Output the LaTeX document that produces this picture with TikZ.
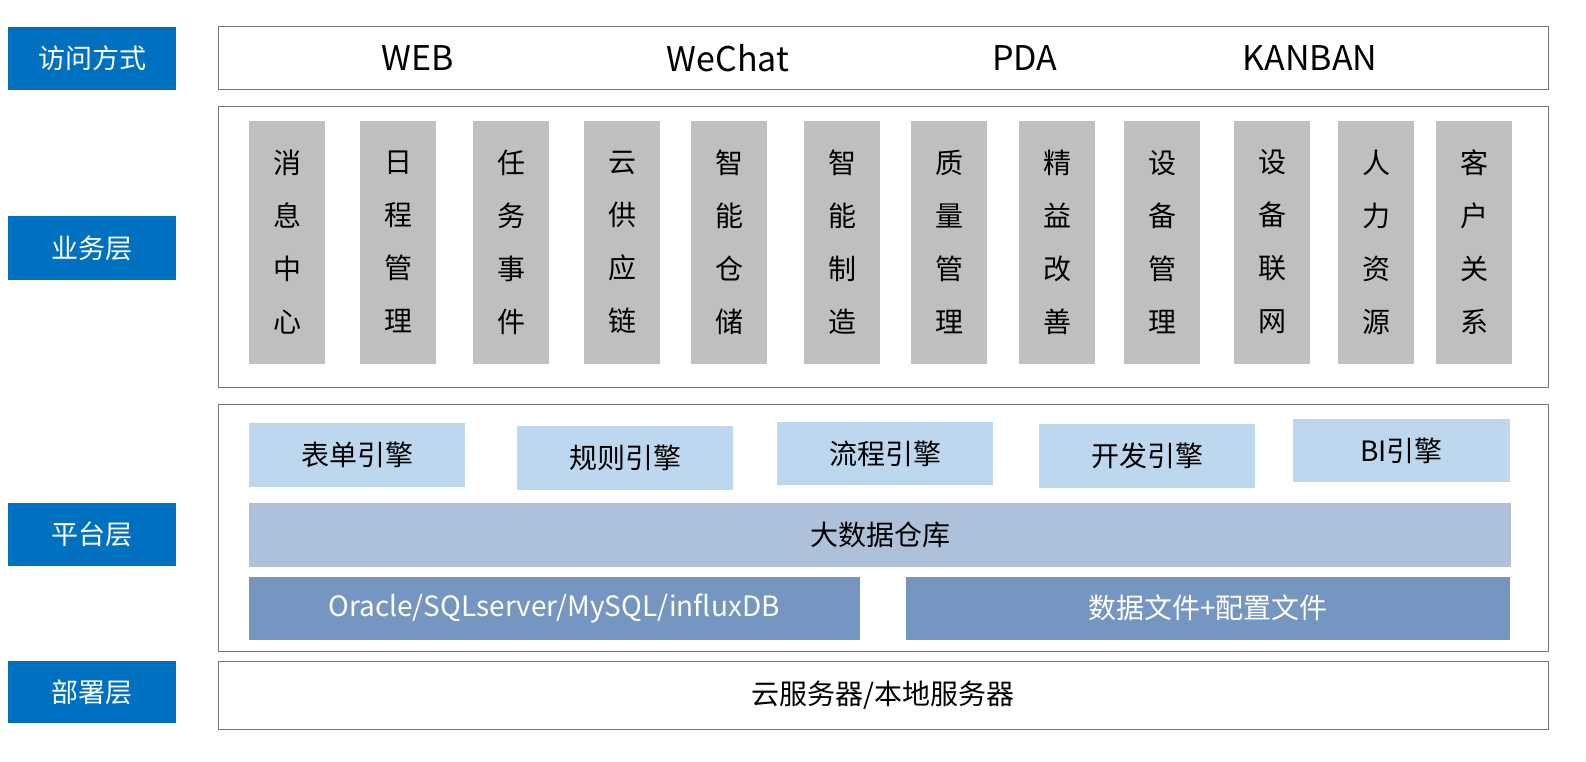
\documentclass[tikz,border=0pt]{standalone}
\usepackage{fontspec}
\setmainfont{Noto Sans CJK SC}
\definecolor{lblue}{RGB}{0,112,192}
\definecolor{pgray}{RGB}{120,120,120}
\definecolor{cgray}{RGB}{191,191,191}
\definecolor{eblue}{RGB}{189,215,238}
\definecolor{dwblue}{RGB}{173,193,219}
\definecolor{dbblue}{RGB}{116,150,192}
\begin{document}
\begin{tikzpicture}[x=1pt,y=-1pt,
 panel/.style={draw=pgray,line width=1pt},
 acc/.style={font=\fontsize{34}{36}\selectfont},
 ctext/.style={font=\fontsize{28}{53}\selectfont,align=center}]
\useasboundingbox (0,0) rectangle (1586,762);
\fill[white] (0,0) rectangle (1586,762);
% left labels
\foreach \n/\a/\b/\t in {la/27/90/访问方式,lb/216/280/业务层,lc/503/566/平台层,ld/661/723/部署层}{
 \fill[lblue] (8,\a) rectangle (176,\b);
 \node[text=white,font=\fontsize{27}{30}\selectfont] (\n) at (92,{(\a+\b)/2}) {\t};}
% panels
\draw[panel] (218,27) rectangle (1548,90);
\draw[panel] (218,107) rectangle (1548,387);
\draw[panel] (218,404) rectangle (1548,651);
\draw[panel] (218,661) rectangle (1548,729);
\node[acc] (web) at (418,58) {WEB};
\node[acc] (wc) at (728,58) {WeChat};
\node[acc] (pda) at (1025,58) {PDA};
\node[acc] (kb) at (1310,58) {KANBAN};
% columns
\foreach \x/\t [count=\i] in {287/消\\息\\中\\心,398/日\\程\\管\\理,511/任\\务\\事\\件,622/云\\供\\应\\链,729/智\\能\\仓\\储,842/智\\能\\制\\造,949/质\\量\\管\\理,1057/精\\益\\改\\善,1162/设\\备\\管\\理,1272/设\\备\\联\\网,1376/人\\力\\资\\源,1474/客\\户\\关\\系}{
 \fill[cgray] (\x-38,121) rectangle (\x+38,364);
 \node[ctext] (c\i) at (\x,242) {\t};}
% engines
\foreach \a/\b/\c/\d/\t [count=\i] in {249/465/423/487/表单引擎,517/733/426/490/规则引擎,777/993/422/485/流程引擎,1039/1255/424/488/开发引擎,1293/1510/419/482/BI引擎}{
 \fill[eblue] (\a,\c) rectangle (\b,\d);
 \node[font=\fontsize{28}{30}\selectfont] (e\i) at ({(\a+\b)/2},{(\c+\d)/2}) {\t};}
\fill[dwblue] (249,503) rectangle (1511,567);
\node[font=\fontsize{28}{30}\selectfont] (dw) at (880,535) {大数据仓库};
\fill[dbblue] (249,577) rectangle (860,640);
\node[text=white,font=\fontsize{28}{30}\selectfont] (db) at (554,608) {Oracle/SQLserver/MySQL/influxDB};
\fill[dbblue] (906,577) rectangle (1510,640);
\node[text=white,font=\fontsize{28}{30}\selectfont] (df) at (1208,608) {数据文件+配置文件};
\node[font=\fontsize{28}{30}\selectfont] (srv) at (883,695) {云服务器/本地服务器};
\end{tikzpicture}
\end{document}
